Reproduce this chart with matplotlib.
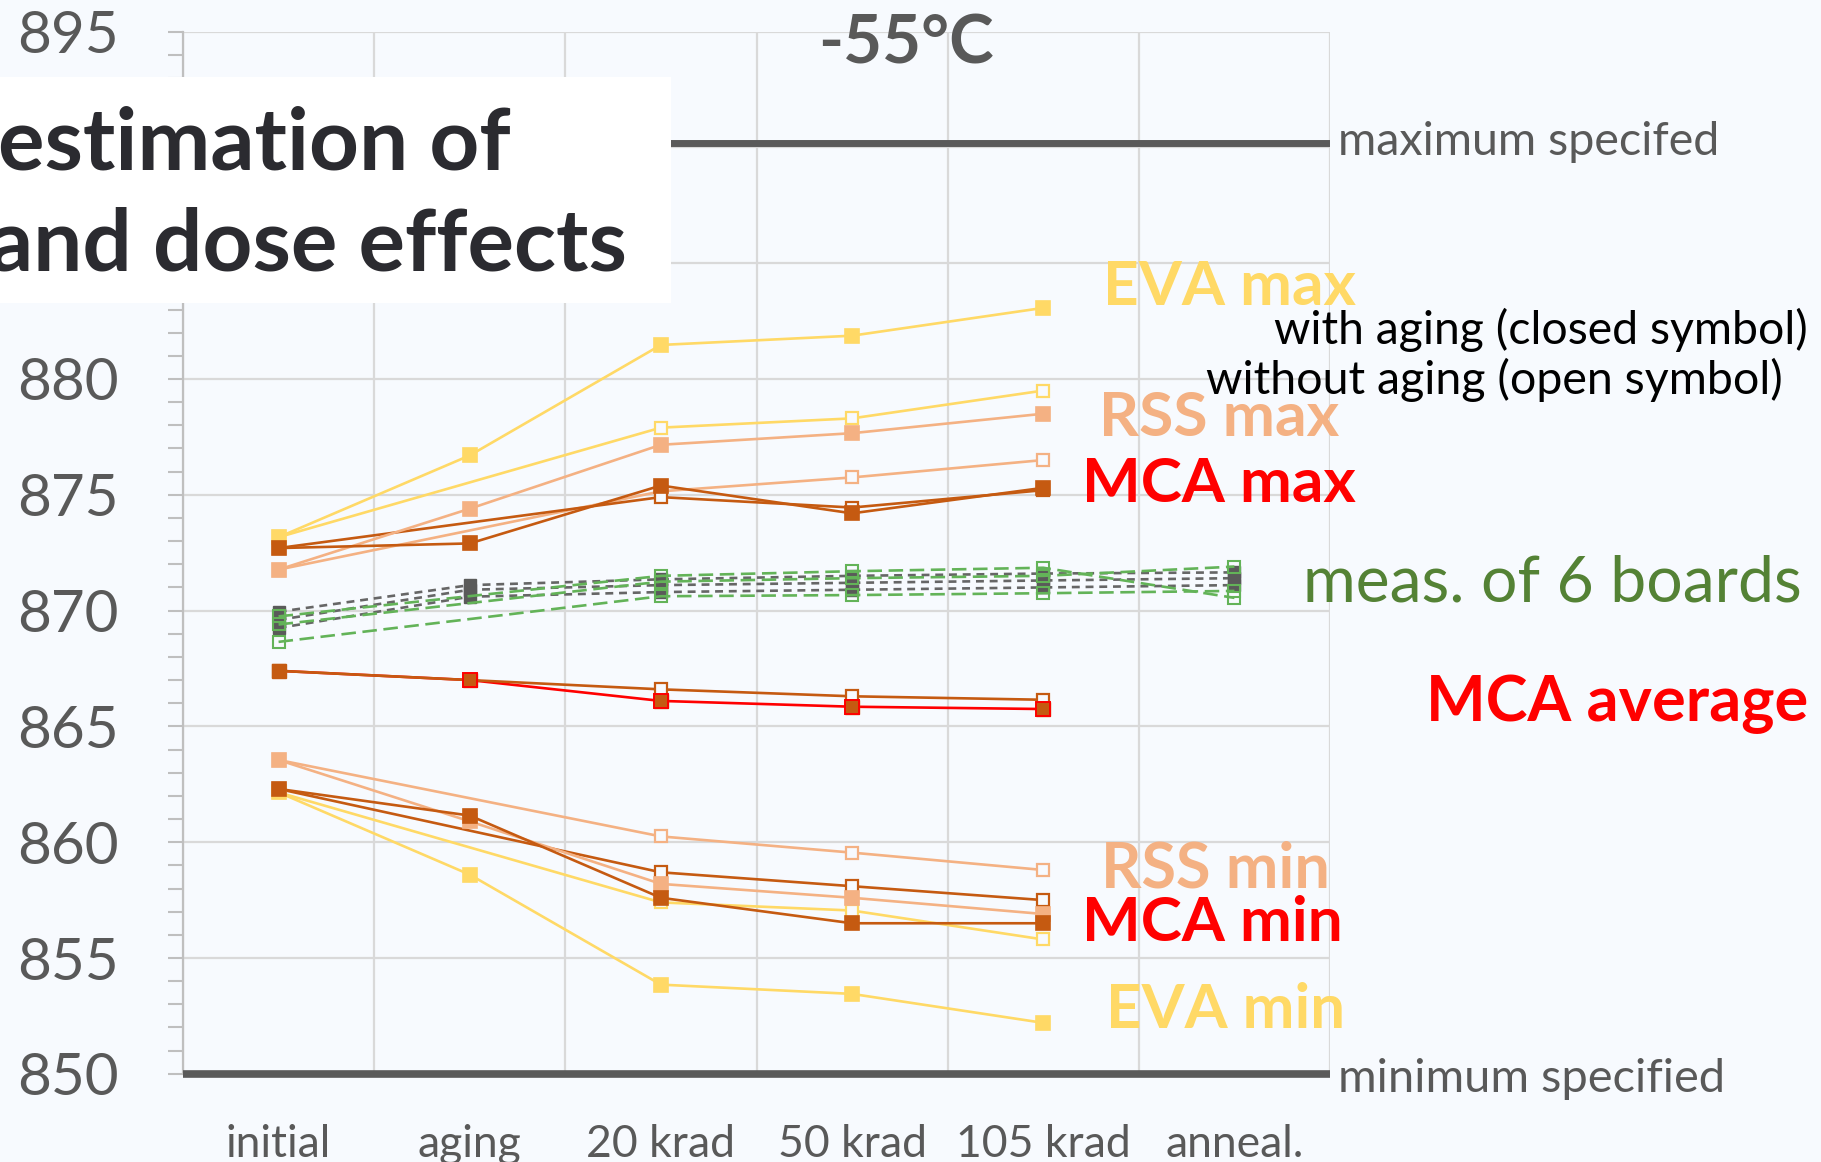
import matplotlib
matplotlib.use("Agg")
import matplotlib.pyplot as plt
from matplotlib.patches import Rectangle
from matplotlib.ticker import MultipleLocator, FixedLocator

plt.rcParams['font.family'] = ['Lato', 'DejaVu Sans']

# ---------------- data ----------------
categories = ["initial", "aging", "20 krad", "50 krad", "105 krad", "anneal."]
x_closed = [0, 1, 2, 3, 4]          # with aging
x_open = [0, 2, 3, 4]               # without aging
x_board_closed = [0, 1, 2, 3, 4, 5]
x_board_open = [0, 2, 3, 4, 5]

eva_max_closed = [873.17, 876.7, 881.47, 881.87, 883.07]
eva_max_open = [873.17, 877.9, 878.3, 879.5]
rss_max_closed = [871.77, 874.4, 877.16, 877.66, 878.5]
rss_max_open = [871.77, 875.15, 875.75, 876.5]
mca_max_closed = [872.7, 872.9, 875.4, 874.2, 875.3]
mca_max_open = [872.7, 874.9, 874.45, 875.2]
mca_avg_closed = [867.4, 867.0, 866.1, 865.85, 865.75]
mca_avg_open = [867.4, 866.6, 866.3, 866.15]
rss_min_closed = [863.55, 860.9, 858.2, 857.6, 856.9]
rss_min_open = [863.55, 860.25, 859.55, 858.8]
mca_min_closed = [862.3, 861.15, 857.6, 856.5, 856.5]
mca_min_open = [862.3, 858.7, 858.1, 857.5]
eva_min_closed = [862.15, 858.6, 853.85, 853.45, 852.2]
eva_min_open = [862.15, 857.4, 857.05, 855.8]

board_closed_1 = [869.95, 871.1, 871.35, 871.5, 871.6, 871.65]
board_closed_2 = [869.6, 870.9, 871.1, 871.2, 871.3, 871.4]
board_closed_3 = [869.25, 870.6, 870.8, 870.9, 871.0, 871.1]
board_open_1 = [869.75, 871.5, 871.7, 871.85, 870.55]
board_open_2 = [869.4, 871.25, 871.4, 871.5, 871.9]
board_open_3 = [868.65, 870.62, 870.67, 870.75, 870.85]

max_specified = 890.2
min_specified = 850.0
y_ticks = [850, 855, 860, 865, 870, 875, 880, 885, 890, 895]
y_ticklabels = ["850", "855", "860", "865", "870", "875", "880", "", "", "895"]  # 885/890 hidden by box

# ---------------- style ----------------
BG = '#F7FAFE'
YEL = '#FFD966'
SAL = '#F4B183'
ORA = '#C55A11'
RED = '#FF0000'
GRN = '#63B358'
GRY = '#5A5A5A'
TXT = '#595959'

W, H = 1821, 1162
fig = plt.figure(figsize=(W / 100, H / 100), dpi=100, facecolor=BG)
ax = fig.add_axes([183 / W, (H - 1073.8) / H, (1330 - 183) / W, (1073.8 - 31.6) / H])
ax.set_facecolor(BG)
ax.set_xlim(-0.5, 5.5)
ax.set_ylim(850, 895)

for s in ['top', 'right', 'bottom']:
    ax.spines[s].set_visible(False)
ax.spines['left'].set_color('#BFBFBF')
ax.spines['left'].set_linewidth(1.6)

ax.yaxis.set_major_locator(FixedLocator(y_ticks))
ax.set_yticklabels(y_ticklabels)
ax.yaxis.set_minor_locator(MultipleLocator(1))
ax.tick_params(axis='y', which='both', direction='out', length=11, width=1.5,
               color='#BFBFBF', labelsize=42, labelcolor=TXT, pad=35)
ax.set_xticks(range(len(categories)))
ax.set_xticklabels(categories)
ax.xaxis.set_minor_locator(FixedLocator([i + 0.5 for i in range(-1, 6)]))
ax.tick_params(axis='x', which='both', length=0, labelsize=32, labelcolor=TXT, pad=36)
ax.grid(axis='y', which='major', color='#D9D9D9', lw=1.6, zorder=0)
ax.grid(axis='x', which='minor', color='#D9D9D9', lw=1.6, zorder=0)
ax.set_axisbelow(True)

# spec lines
ax.axhline(max_specified, color=GRY, lw=5, zorder=2, solid_capstyle='butt')
ax.axhline(min_specified, color=GRY, lw=5.5, zorder=6, clip_on=False, solid_capstyle='butt')

MS = 9.5
LW = 1.9


def closed(y, col, lc=None, ec=None, z=4.5):
    ax.plot(x_closed, y, color=lc or col, lw=LW, marker='s', ms=MS,
            mfc=col, mec=ec or col, mew=1.2, zorder=z)


def opened(y, col, z=4):
    ax.plot(x_open, y, color=col, lw=LW, marker='s', ms=MS - 0.5,
            mfc=BG, mec=col, mew=1.6, zorder=z)


# boards
for yb in (board_closed_1, board_closed_2, board_closed_3):
    ax.plot(x_board_closed, yb, color='#666666', lw=LW, ls=(0, (3, 2.2)),
            marker='s', ms=MS - 0.5, mfc=GRY, mec=GRY, zorder=3)
for yb in (board_open_1, board_open_2, board_open_3):
    ax.plot(x_board_open, yb, color=GRN, lw=LW, ls=(0, (5.5, 2.5)),
            marker='s', ms=MS - 0.5, mfc='none', mec=GRN, mew=1.5, zorder=3)

opened(eva_max_open, YEL)
closed(eva_max_closed, YEL)
opened(rss_max_open, SAL)
closed(rss_max_closed, SAL)
opened(mca_max_open, ORA)
closed(mca_max_closed, ORA)
opened(mca_avg_open, ORA)
ax.plot(x_closed, mca_avg_closed, color=RED, lw=LW, zorder=3.5)
ax.plot(x_closed, mca_avg_closed, ls='none', marker='s', ms=MS,
        mfc=ORA, mec=ORA, zorder=4.6)
ax.plot(x_closed[1:], mca_avg_closed[1:], ls='none', marker='s', ms=MS,
        mfc=ORA, mec=RED, mew=1.4, zorder=4.7)
opened(eva_min_open, YEL)
closed(eva_min_closed, YEL)
opened(rss_min_open, SAL)
closed(rss_min_closed, SAL)
opened(mca_min_open, ORA)
closed(mca_min_closed, ORA)

# ---------------- texts ----------------
renderer = fig.canvas.get_renderer()


def ftext(x, y, s, target_w, ha='left', fs=40, **kw):
    t = fig.text(x / W, 1 - y / H, s, ha=ha, va='baseline', fontsize=fs, **kw)
    w = t.get_window_extent(renderer).width
    t.set_fontsize(fs * target_w / w)
    return t


# white box with heading
fig.patches.append(Rectangle((0, 1 - 303 / H), 671 / W, (303 - 77) / H,
                             transform=fig.transFigure, facecolor='white',
                             edgecolor='none', zorder=10))
t2 = ftext(627, 271, "and dose effects", 637, ha='right', fontweight='bold',
           color='#2B2B30', zorder=11)
fig.text(511 / W, 1 - 170 / H, "estimation of", ha='right', va='baseline',
         fontsize=t2.get_fontsize(), fontweight='bold', color='#2B2B30', zorder=11)

ftext(906, 64, "-55°C", 175, ha='center', fontweight='bold', color=TXT)

ftext(1338, 155, "maximum specifed", 381, color=TXT)
ftext(1338, 1092, "minimum specified", 386, color=TXT)
ftext(1103, 305, "EVA max", 253, fontweight='bold', color=YEL)
ftext(1808, 344, "with aging (closed symbol)", 534, ha='right', color='black')
ftext(1783, 394, "without aging (open symbol)", 577, ha='right', color='black')
ftext(1099, 436, "RSS max", 240, fontweight='bold', color=SAL)
ftext(1082, 502, "MCA max", 274, fontweight='bold', color=RED)
ftext(1303, 602, "meas. of 6 boards", 499, color='#548235')
ftext(1426, 721, "MCA average", 382, fontweight='bold', color=RED)
ftext(1101, 888, "RSS min", 229, fontweight='bold', color=SAL)
ftext(1082, 941, "MCA min", 261, fontweight='bold', color=RED)
ftext(1106, 1028, "EVA min", 239, fontweight='bold', color=YEL)

fig.savefig("out.png", dpi=100, facecolor=BG)
